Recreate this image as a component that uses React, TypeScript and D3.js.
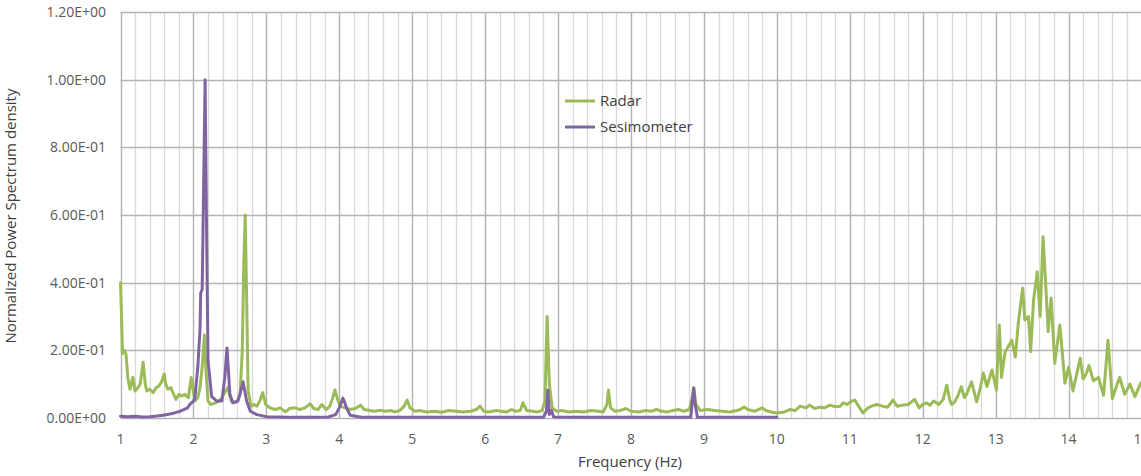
import { useEffect, useRef } from "react";
import * as d3 from "d3";

// Radar spectrum (frequency in Hz, normalized PSD)
const radarFreq = [
  1.0, 1.014, 1.027, 1.048, 1.075, 1.1, 1.13, 1.17, 1.2, 1.24, 1.27, 1.31, 1.34, 1.36, 1.4, 1.45, 1.49, 1.53, 1.57, 1.6,
  1.62, 1.65, 1.69, 1.73, 1.76, 1.8, 1.84, 1.88, 1.93, 1.97, 1.99, 2.02, 2.06, 2.09, 2.12, 2.15, 2.17, 2.2, 2.24, 2.3,
  2.35, 2.39, 2.43, 2.47, 2.52, 2.56, 2.6, 2.64, 2.67, 2.69, 2.71, 2.73, 2.75, 2.79, 2.83, 2.87, 2.91, 2.95, 2.99, 3.05,
  3.12, 3.19, 3.26, 3.32, 3.39, 3.46, 3.53, 3.6, 3.65, 3.71, 3.76, 3.82, 3.87, 3.91, 3.94, 3.97, 4.01, 4.08, 4.15, 4.22,
  4.29, 4.34, 4.42, 4.49, 4.56, 4.63, 4.7, 4.76, 4.83, 4.89, 4.93, 4.97, 5.04, 5.1, 5.2, 5.3, 5.4, 5.5, 5.6, 5.7,
  5.8, 5.88, 5.93, 5.98, 6.05, 6.15, 6.22, 6.3, 6.36, 6.42, 6.48, 6.52, 6.57, 6.65, 6.72, 6.78, 6.82, 6.85, 6.88, 6.92,
  6.98, 7.05, 7.15, 7.25, 7.35, 7.45, 7.55, 7.62, 7.67, 7.69, 7.72, 7.78, 7.85, 7.93, 8.0, 8.1, 8.2, 8.28, 8.35, 8.42,
  8.5, 8.58, 8.65, 8.72, 8.8, 8.84, 8.86, 8.89, 8.95, 9.05, 9.15, 9.25, 9.35, 9.45, 9.5, 9.55, 9.6, 9.65, 9.7, 9.8,
  9.85, 9.92, 10.0, 10.1, 10.18, 10.25, 10.32, 10.4, 10.45, 10.52, 10.59, 10.65, 10.73, 10.8, 10.87, 10.91, 10.96, 11.03, 11.07, 11.12,
  11.18, 11.25, 11.3, 11.37, 11.45, 11.52, 11.59, 11.65, 11.72, 11.8, 11.89, 11.95, 12.0, 12.05, 12.1, 12.15, 12.22, 12.28, 12.33, 12.37,
  12.4, 12.44, 12.49, 12.53, 12.57, 12.6, 12.67, 12.74, 12.79, 12.83, 12.88, 12.95, 13.01, 13.05, 13.08, 13.13, 13.17, 13.22, 13.27, 13.31,
  13.37, 13.4, 13.45, 13.48, 13.52, 13.57, 13.61, 13.65, 13.7, 13.72, 13.76, 13.81, 13.88, 13.95, 14.0, 14.06, 14.16, 14.2, 14.24, 14.28,
  14.34, 14.41, 14.48, 14.54, 14.6, 14.65, 14.7, 14.77, 14.84, 14.91, 14.99,
];
const radarPsd = [
  0.4, 0.3, 0.19, 0.2, 0.19, 0.12, 0.085, 0.12, 0.08, 0.09, 0.1, 0.165, 0.1, 0.08, 0.085, 0.075, 0.09, 0.095, 0.11, 0.13,
  0.1, 0.085, 0.09, 0.07, 0.055, 0.07, 0.065, 0.07, 0.06, 0.12, 0.09, 0.05, 0.06, 0.09, 0.15, 0.245, 0.15, 0.05, 0.04, 0.045,
  0.05, 0.06, 0.075, 0.09, 0.05, 0.045, 0.05, 0.07, 0.2, 0.45, 0.6, 0.35, 0.08, 0.035, 0.04, 0.035, 0.05, 0.075, 0.04, 0.03,
  0.025, 0.03, 0.018, 0.028, 0.03, 0.025, 0.03, 0.042, 0.028, 0.025, 0.04, 0.025, 0.035, 0.06, 0.083, 0.06, 0.035, 0.03, 0.025, 0.028,
  0.038, 0.025, 0.022, 0.02, 0.023, 0.02, 0.022, 0.018, 0.022, 0.035, 0.053, 0.03, 0.02, 0.022, 0.018, 0.02, 0.017, 0.022, 0.02, 0.018,
  0.02, 0.025, 0.035, 0.02, 0.018, 0.022, 0.02, 0.018, 0.025, 0.02, 0.022, 0.045, 0.022, 0.02, 0.018, 0.022, 0.05, 0.3, 0.1, 0.03,
  0.02, 0.022, 0.018, 0.02, 0.018, 0.022, 0.02, 0.018, 0.04, 0.083, 0.03, 0.02, 0.022, 0.028, 0.02, 0.018, 0.022, 0.02, 0.025, 0.02,
  0.018, 0.022, 0.025, 0.02, 0.025, 0.06, 0.09, 0.04, 0.022, 0.025, 0.022, 0.02, 0.018, 0.022, 0.025, 0.033, 0.025, 0.022, 0.02, 0.03,
  0.022, 0.018, 0.015, 0.018, 0.025, 0.022, 0.035, 0.03, 0.038, 0.028, 0.032, 0.03, 0.038, 0.033, 0.035, 0.045, 0.04, 0.05, 0.053, 0.035,
  0.015, 0.03, 0.035, 0.04, 0.035, 0.032, 0.053, 0.035, 0.038, 0.04, 0.055, 0.03, 0.04, 0.045, 0.038, 0.05, 0.04, 0.055, 0.097, 0.053,
  0.04, 0.048, 0.07, 0.093, 0.06, 0.07, 0.107, 0.048, 0.09, 0.133, 0.093, 0.142, 0.083, 0.275, 0.12, 0.196, 0.21, 0.23, 0.18, 0.28,
  0.384, 0.29, 0.3, 0.196, 0.35, 0.432, 0.3, 0.536, 0.34, 0.255, 0.355, 0.162, 0.275, 0.103, 0.15, 0.08, 0.177, 0.115, 0.13, 0.155,
  0.11, 0.12, 0.067, 0.23, 0.057, 0.09, 0.12, 0.07, 0.1, 0.063, 0.104,
];

// Seismometer spectrum
const seisFreq = [
  1.0, 1.1, 1.2, 1.3, 1.4, 1.5, 1.58, 1.66, 1.74, 1.82, 1.86, 1.92, 1.95, 2.0, 2.02, 2.06, 2.09, 2.1, 2.12, 2.16,
  2.18, 2.2, 2.25, 2.32, 2.39, 2.43, 2.46, 2.5, 2.54, 2.61, 2.65, 2.68, 2.73, 2.78, 2.87, 3.0, 3.3, 3.6, 3.85, 3.95,
  4.0, 4.05, 4.1, 4.15, 4.3, 6.8, 6.84, 6.86, 6.88, 6.91, 6.94, 7.5, 8.82, 8.84, 8.86, 8.88, 8.91, 10.0,
];
const seisPsd = [
  0.005, 0.004, 0.005, 0.003, 0.004, 0.006, 0.008, 0.011, 0.015, 0.02, 0.024, 0.03, 0.04, 0.05, 0.06, 0.15, 0.26, 0.37, 0.38, 1.0,
  0.565, 0.17, 0.063, 0.05, 0.05, 0.12, 0.207, 0.07, 0.045, 0.05, 0.08, 0.107, 0.05, 0.02, 0.01, 0.004, 0.002, 0.002, 0.003, 0.01,
  0.03, 0.059, 0.03, 0.008, 0.002, 0.002, 0.02, 0.083, 0.01, 0.022, 0.003, 0.002, 0.002, 0.05, 0.088, 0.04, 0.002, 0.002,
];

const seriesNames = ["Radar", "Sesimometer"];
const seriesColors = ["#9BBB59", "#8064A2"];
const xTicks = d3.range(1, 16);
const xMinorTicks = d3.range(1, 15.01, 0.2);
const yTicks = [0, 0.2, 0.4, 0.6, 0.8, 1.0, 1.2];

const FONT = "'Open Sans', 'Noto Sans', sans-serif";

function sciLabel(v: number) {
  const [m, e] = v.toExponential(2).split("e");
  const sign = e[0] === "-" ? "-" : "+";
  const digits = e.replace(/[+-]/, "").padStart(2, "0");
  return `${m}E${sign}${digits}`;
}

export default function App() {
  const ref = useRef<SVGSVGElement>(null);

  // Chart attributes
  const chartAttr = { width: 1141, height: 476, left: 120.5, top: 12, bottom: 418 };

  useEffect(() => {
    const svg = d3.select(ref.current);
    svg.selectAll("*").remove();

    const xScale = d3.scaleLinear().domain([1, 15]).range([chartAttr.left, chartAttr.left + 14 * 72.93]);
    const yScale = d3.scaleLinear().domain([0, 1.2]).range([chartAttr.bottom, chartAttr.top]);

    const grid = svg.append("g");
    // minor vertical gridlines every 0.2 Hz
    grid.selectAll("line.minor")
      .data(xMinorTicks)
      .enter()
      .append("line")
      .attr("x1", d => Math.round(xScale(d)) + 0.5)
      .attr("x2", d => Math.round(xScale(d)) + 0.5)
      .attr("y1", chartAttr.top)
      .attr("y2", chartAttr.bottom)
      .attr("stroke", "#D9D9D9")
      .attr("stroke-width", 1.3);
    // major vertical gridlines
    grid.selectAll("line.major")
      .data(xTicks)
      .enter()
      .append("line")
      .attr("x1", d => Math.round(xScale(d)) + 0.5)
      .attr("x2", d => Math.round(xScale(d)) + 0.5)
      .attr("y1", chartAttr.top)
      .attr("y2", chartAttr.bottom)
      .attr("stroke", "#B3B3B3")
      .attr("stroke-width", 1.3);
    // horizontal gridlines
    grid.selectAll("line.h")
      .data(yTicks)
      .enter()
      .append("line")
      .attr("x1", chartAttr.left)
      .attr("x2", chartAttr.width)
      .attr("y1", d => Math.round(yScale(d)) + 0.5)
      .attr("y2", d => Math.round(yScale(d)) + 0.5)
      .attr("stroke", "#B3B3B3")
      .attr("stroke-width", 1.3);

    // y axis labels
    svg.append("g")
      .selectAll("text")
      .data(yTicks)
      .enter()
      .append("text")
      .attr("x", 106)
      .attr("y", d => yScale(d))
      .attr("dy", "0.35em")
      .attr("text-anchor", "end")
      .attr("font-family", FONT)
      .attr("font-size", 14)
      .attr("fill", "#595959")
      .text(d => sciLabel(d));

    // x axis labels
    svg.append("g")
      .selectAll("text")
      .data(xTicks)
      .enter()
      .append("text")
      .attr("x", d => xScale(d))
      .attr("y", 444)
      .attr("text-anchor", "middle")
      .attr("font-family", FONT)
      .attr("font-size", 14)
      .attr("fill", "#595959")
      .text(d => String(d));

    // Axis titles
    svg.append("text")
      .attr("x", 630)
      .attr("y", 467)
      .attr("text-anchor", "middle")
      .attr("font-family", FONT)
      .attr("font-size", 15)
      .attr("fill", "#404040")
      .text("Frequency (Hz)");

    svg.append("text")
      .attr("transform", "translate(16,216) rotate(-90)")
      .attr("text-anchor", "middle")
      .attr("font-family", FONT)
      .attr("font-size", 15)
      .attr("fill", "#404040")
      .text("Normalized Power Spectrum density");

    // Lines
    const line = d3.line<[number, number]>()
      .x(d => xScale(d[0]))
      .y(d => yScale(d[1]));

    const radar: [number, number][] = radarFreq.map((f, i) => [f, radarPsd[i]]);
    const seis: [number, number][] = seisFreq.map((f, i) => [f, seisPsd[i]]);

    [radar, seis].forEach((data, i) => {
      svg.append("path")
        .datum(data)
        .attr("d", line)
        .attr("fill", "none")
        .attr("stroke", seriesColors[i])
        .attr("stroke-width", 3)
        .attr("stroke-linejoin", "round")
        .attr("stroke-linecap", "round");
    });

    // Legend
    const legend = svg.append("g");
    seriesNames.forEach((name, i) => {
      const ly = 101 + i * 26;
      legend.append("line")
        .attr("x1", 565)
        .attr("x2", 595)
        .attr("y1", ly)
        .attr("y2", ly)
        .attr("stroke", seriesColors[i])
        .attr("stroke-width", 3);
      legend.append("text")
        .attr("x", 600)
        .attr("y", ly)
        .attr("dy", "0.35em")
        .attr("font-family", FONT)
        .attr("font-size", 15)
        .attr("fill", "#404040")
        .text(name);
    });
  }, []);

  return (
    <div>
      <svg
        ref={ref}
        width={chartAttr.width}
        height={chartAttr.height}
        style={{ position: "absolute", left: 0, top: 0, background: "#fff" }}
      />
    </div>
  );
}
